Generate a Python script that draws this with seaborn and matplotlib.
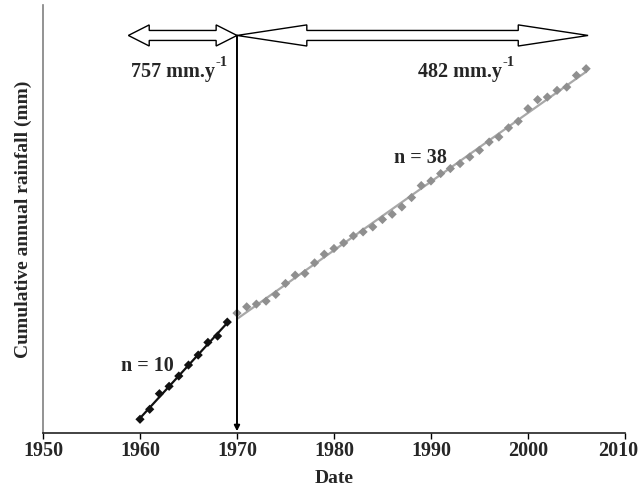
import numpy as np
import pandas as pd
import matplotlib
matplotlib.use("Agg")
import matplotlib.pyplot as plt
from matplotlib.patches import Polygon
from matplotlib.transforms import ScaledTranslation
import seaborn as sns

# datos (lluvia acumulada, mm)
anios_1 = list(range(1960, 1970))
lluvia_1 = [959, 1659, 2751, 3269, 3990, 4760, 5460, 6349, 6790, 7770]

anios_2 = list(range(1970, 2007))
lluvia_2 = [8400, 8841, 9030, 9240, 9709, 10479, 11060, 11179, 11921, 12530,
            12929, 13321, 13811, 14091, 14441, 14959, 15330, 15841, 16499, 17339,
            17661, 18179, 18529, 18879, 19341, 19810, 20391, 20741, 21385, 21840,
            22729, 23359, 23541, 24010, 24241, 25060, 25529]

tasas = ["757", "482"]
etiquetas_n = ["n = 10", "n = 38"]
ticks_x = [1950, 1960, 1970, 1980, 1990, 2000, 2010]

df1 = pd.DataFrame({"anio": anios_1, "lluvia": lluvia_1})
df2 = pd.DataFrame({"anio": anios_2, "lluvia": lluvia_2})

sns.set_style("white")
plt.rcParams["font.family"] = ["Liberation Serif", "DejaVu Serif"]
plt.rcParams["font.weight"] = "bold"

fig = plt.figure(figsize=(6.43, 4.92), dpi=100)
ax = fig.add_axes([0.0669, 0.12, 0.905, 0.87])

# lineas de tendencia
sns.regplot(data=df1, x="anio", y="lluvia", ax=ax, ci=None, scatter=False,
            line_kws={"color": "#111111", "lw": 1.6})
sns.regplot(data=df2, x="anio", y="lluvia", ax=ax, ci=None, scatter=False,
            line_kws={"color": "#a8a8a8", "lw": 1.6})
# puntos
sns.scatterplot(data=df1, x="anio", y="lluvia", ax=ax, marker="D", s=22,
                color="#111111", edgecolor="none", zorder=3)
sns.scatterplot(data=df2, x="anio", y="lluvia", ax=ax, marker="D", s=22,
                color="#8f8f8f", edgecolor="none", zorder=3)

ax.set_xlim(1950, 2010)
ax.set_ylim(0, 30000)
ax.set_xticks(ticks_x)
ax.set_yticks([])
ax.tick_params(axis="x", labelsize=14.5, length=4, width=1, color="black",
               direction="out", bottom=True, pad=2)
for lab in ax.get_xticklabels():
    lab.set_fontweight("bold")
# la ultima etiqueta un poco a la izquierda para que no se corte
ult = ax.get_xticklabels()[-1]
ult.set_transform(ult.get_transform() + ScaledTranslation(-5 / 72, 0, fig.dpi_scale_trans))
ax.set_xlabel("Date", fontsize=14, fontweight="bold", labelpad=6)
ax.set_ylabel("Cumulative annual rainfall (mm)", fontsize=14, fontweight="bold", labelpad=8)

sns.despine(ax=ax)
ax.spines["left"].set_color("#808080")
ax.spines["left"].set_linewidth(1.2)
ax.spines["bottom"].set_color("#222222")
ax.spines["bottom"].set_linewidth(1.2)

# flechas dobles huecas
quiebre = anios_2[0]
yc = 27860
def flecha_doble(x0, x1, h, sh=350, hh=740):
    pts = [(x0, yc), (x0 + h, yc + hh), (x0 + h, yc + sh), (x1 - h, yc + sh),
           (x1 - h, yc + hh), (x1, yc), (x1 - h, yc - hh), (x1 - h, yc - sh),
           (x0 + h, yc - sh), (x0 + h, yc - hh)]
    ax.add_patch(Polygon(pts, closed=True, facecolor="white", edgecolor="black",
                         lw=1.0, zorder=4))

flecha_doble(anios_1[0] - 1.2, quiebre, 2.15)
flecha_doble(quiebre, anios_2[-1] + 0.2, 7.2)

# linea vertical con flecha
ax.annotate("", xy=(quiebre, 120), xytext=(quiebre, yc),
            arrowprops=dict(arrowstyle="-|>", color="black", lw=1.4,
                            mutation_scale=8, shrinkA=0, shrinkB=0), zorder=5)

# tasas con superindice
def tasa(x, texto):
    t = ax.text(x, 25300, texto + " mm.y", fontsize=14.5, fontweight="bold",
                ha="right", va="center")
    ax.annotate("-1", xy=(1.0, 0.95), xycoords=t, xytext=(0.5, 0),
                textcoords="offset points", fontsize=10.5, fontweight="bold",
                ha="left", va="center")

tasa(1967.7, tasas[0])
tasa(1997.3, tasas[1])

ax.text(1960.8, 4690, etiquetas_n[0], fontsize=14.5, fontweight="bold",
        ha="center", va="center")
ax.text(1988.9, 19250, etiquetas_n[1], fontsize=14.5, fontweight="bold",
        ha="center", va="center")

fig.savefig("out.png", dpi=100)
